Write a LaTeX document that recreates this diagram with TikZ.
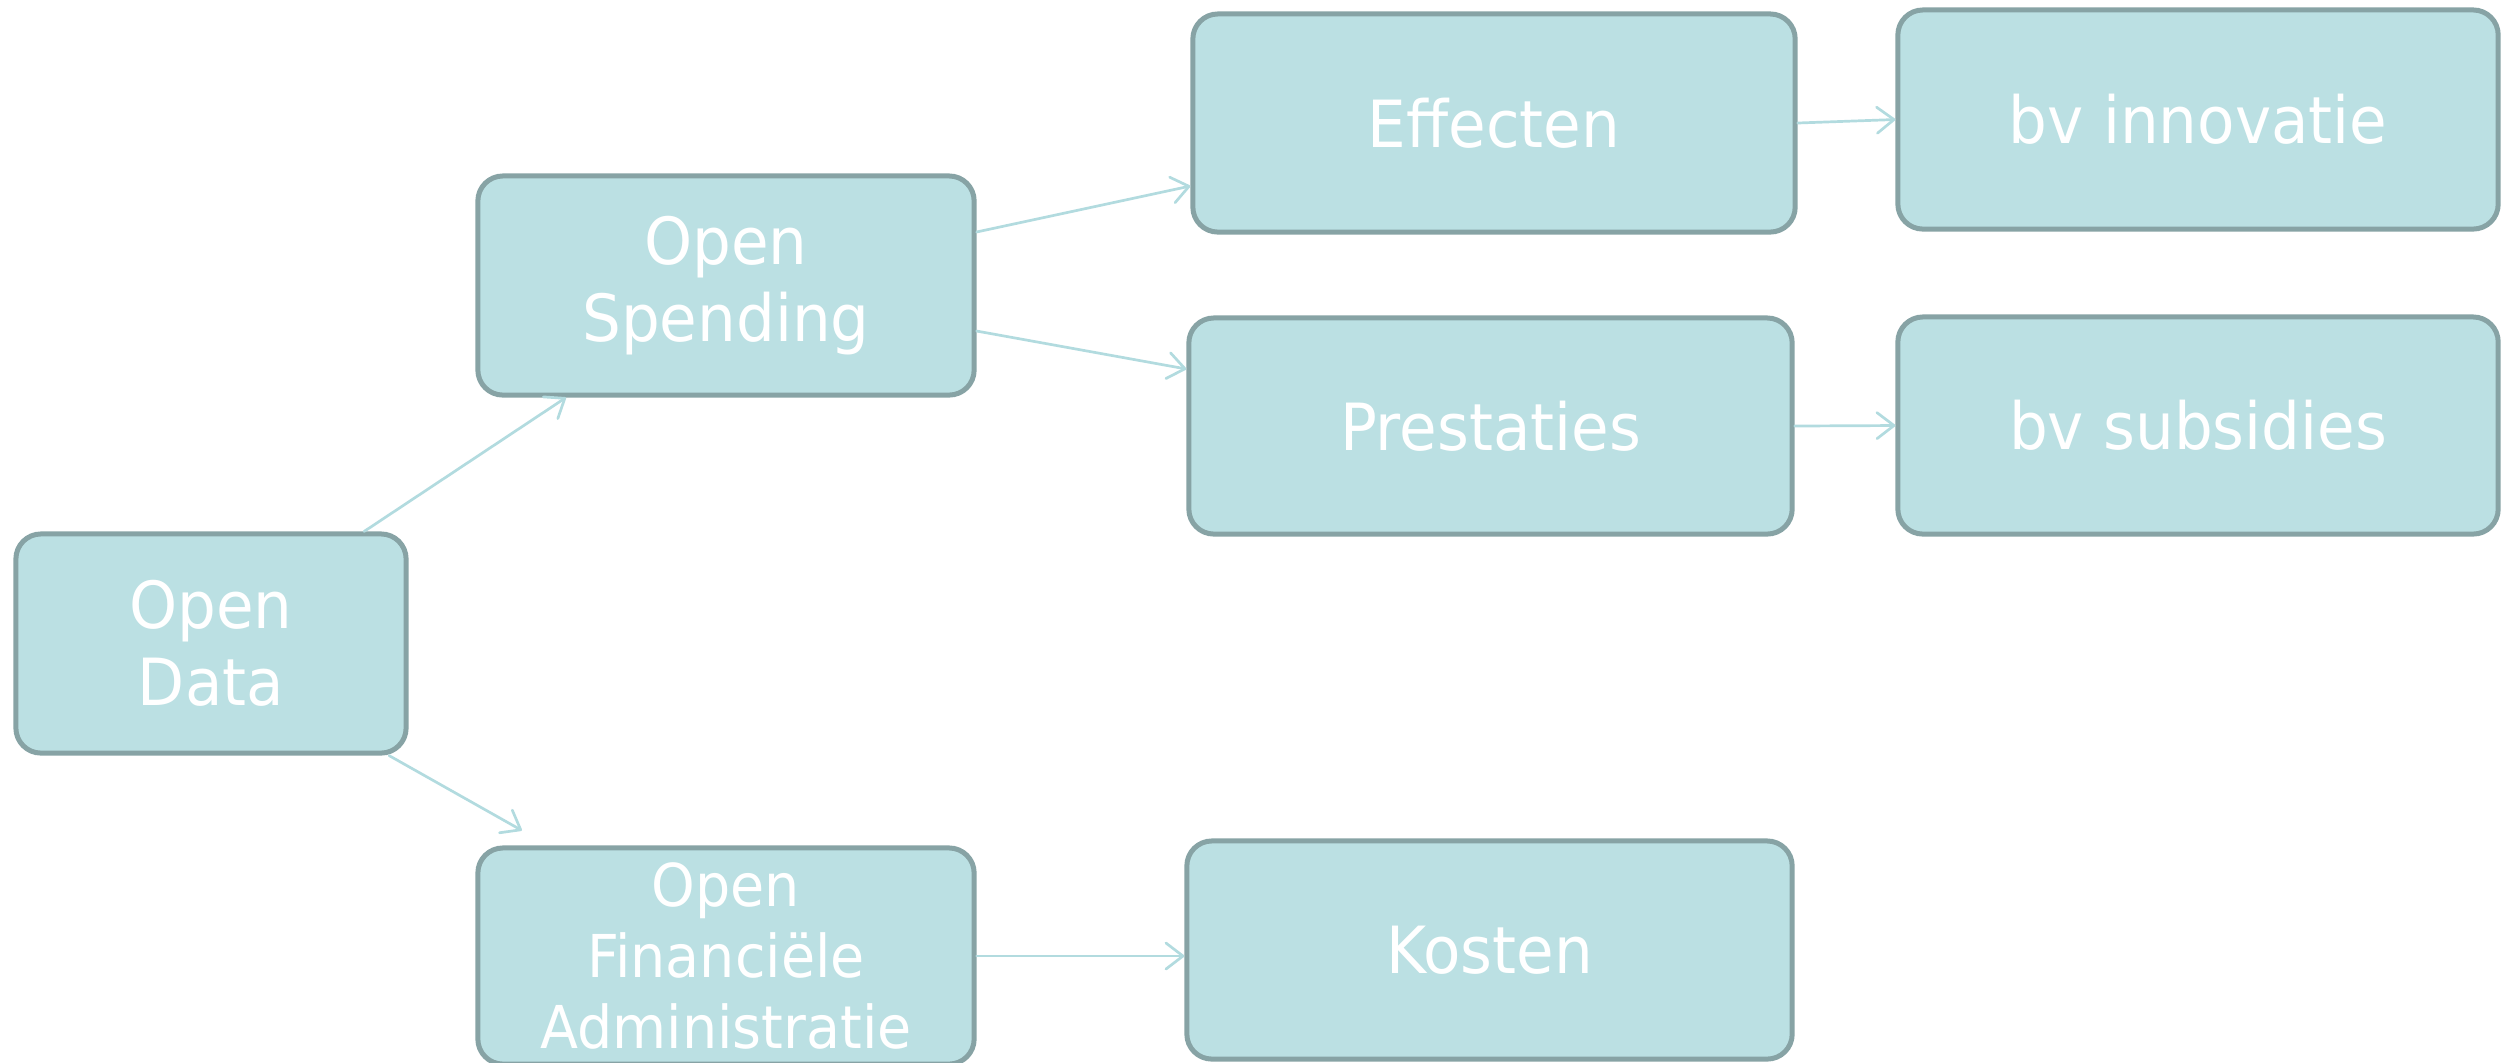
\documentclass[tikz,border=0pt]{standalone}
\usepackage{fontspec}
\setmainfont{DejaVu Sans}[FakeStretch=0.94]
\usetikzlibrary{positioning}
\usetikzlibrary{arrows.meta}
\definecolor{boxfill}{HTML}{BBE0E3}
\definecolor{boxline}{HTML}{87A3A5}
\definecolor{arrowcol}{HTML}{B2DBDF}
\tikzset{
    mybox/.style = {rectangle, rounded corners=0.25cm, line width=0.05cm, draw=boxline, fill=boxfill,
                    align=center, inner sep=0pt, text=white, font=\fontsize{18.5pt}{21.9pt}\selectfont},
    myboxs/.style = {mybox, font=\fontsize{16.8pt}{20.3pt}\selectfont},
    edgea/.style = {-{Straight Barb[length=0.17cm,width=0.26cm,round]}, line width=0.027cm, arrowcol, line cap=round},
}

\begin{document}
\begin{tikzpicture}[x=0.01cm,y=-0.01cm]
\path[use as bounding box] (0,0) rectangle (2501,1062);
\node[mybox, minimum width=3.90cm, minimum height=2.19cm] at (211, 643.5) (od) {Open\\Data};
\node[mybox, minimum width=4.96cm, minimum height=2.19cm] at (726, 285.5) (os) {Open\\Spending};
\node[myboxs, minimum width=4.96cm, minimum height=2.16cm] at (726, 956) (fin) {Open\\Financiële\\Administratie};
%
\node[mybox, minimum width=6.02cm, minimum height=2.18cm] at (1494, 123) (eff) {Effecten};
\node[mybox, minimum width=6.03cm, minimum height=2.16cm] at (1490.5, 426) (pre) {Prestaties};
\node[mybox, minimum width=6.05cm, minimum height=2.18cm] at (1489.5, 950) (kos) {Kosten};
%
\node[mybox, minimum width=6.00cm, minimum height=2.19cm] at (2198, 119.5) (inn) {bv innovatie};
\node[mybox, minimum width=6.00cm, minimum height=2.17cm] at (2198, 425.5) (sub) {bv subsidies};
%
\draw[edgea] ([xshift=1.53cm]od.north) -- ([xshift=-1.60cm]os.south);
\draw[edgea] ([xshift=1.78cm]od.south) -- ([xshift=-2.04cm,yshift=0.15cm]fin.north);
\draw[edgea] ([yshift=0.535cm]os.east) -- ([yshift=-0.63cm]eff.west);
\draw[edgea] ([yshift=-0.455cm]os.east) -- ([yshift=0.57cm]pre.west);
\draw[edgea] (eff.east) -- (inn.west);
\draw[edgea] (pre.east) -- (sub.west);
\draw[edgea] (fin.east) -- (fin.east -| kos.west);
\end{tikzpicture}
\end{document}
